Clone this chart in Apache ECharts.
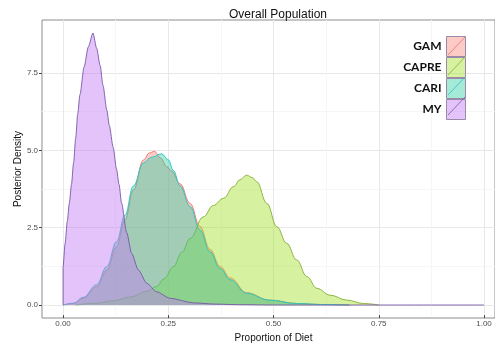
<!DOCTYPE html>
<html>
<head>
<meta charset="utf-8">
<script src="https://cdn.jsdelivr.net/npm/echarts@6/dist/echarts.min.js"></script>
<style>
  html, body { margin: 0; padding: 0; background: #ffffff; }
  #chart { width: 495px; height: 348px; }
</style>
</head>
<body>
<div id="chart"></div>
<script>
// Posterior density of each prey group's proportion of the diet
const groups = ['GAM', 'CAPRE', 'CARI', 'MY'];

const gamX = [0, 0.025, 0.048, 0.08, 0.104, 0.127, 0.147, 0.167, 0.191, 0.205, 0.217, 0.232, 0.246, 0.258, 0.278, 0.302, 0.325, 0.349, 0.373, 0.397, 0.436, 0.49, 0.555, 0.62, 0.68];
const gamY = [0, 0.05, 0.22, 0.59, 1.13, 1.89, 2.75, 3.72, 4.69, 4.92, 4.97, 4.75, 4.48, 4.33, 3.92, 3.28, 2.55, 1.8, 1.25, 0.88, 0.4, 0.16, 0.05, 0.015, 0];

const capreX = [0.03, 0.08, 0.12, 0.16, 0.2, 0.222, 0.24, 0.262, 0.282, 0.302, 0.333, 0.357, 0.381, 0.405, 0.42, 0.436, 0.45, 0.46, 0.484, 0.508, 0.531, 0.555, 0.579, 0.603, 0.634, 0.674, 0.713, 0.75];
const capreY = [0, 0.06, 0.14, 0.26, 0.45, 0.6, 0.85, 1.24, 1.7, 2.15, 2.85, 3.22, 3.45, 3.83, 4.05, 4.2, 4.12, 3.99, 3.29, 2.53, 2.0, 1.46, 0.92, 0.54, 0.32, 0.16, 0.05, 0];

const cariX = [0, 0.025, 0.048, 0.08, 0.104, 0.127, 0.147, 0.167, 0.191, 0.21, 0.234, 0.25, 0.262, 0.278, 0.302, 0.325, 0.349, 0.373, 0.397, 0.436, 0.49, 0.555, 0.62, 0.68];
const cariY = [0, 0.06, 0.25, 0.66, 1.25, 2.05, 2.9, 3.85, 4.6, 4.78, 4.89, 4.7, 4.35, 3.85, 3.18, 2.43, 1.72, 1.18, 0.82, 0.38, 0.16, 0.05, 0.015, 0];

const myX = [0, 0, 0.005, 0.01, 0.015, 0.02, 0.025, 0.03, 0.035, 0.04, 0.05, 0.06, 0.071, 0.08, 0.088, 0.095, 0.104, 0.11, 0.119, 0.127, 0.133, 0.139, 0.151, 0.163, 0.179, 0.199, 0.222, 0.254, 0.309, 0.36, 0.42, 0.5, 1.0];
const myY = [0, 1.24, 2.0, 2.7, 3.3, 3.9, 4.6, 5.4, 6.2, 6.8, 7.7, 8.35, 8.8, 8.3, 7.75, 7.1, 6.3, 5.8, 5.1, 4.4, 3.9, 3.3, 2.35, 1.67, 1.13, 0.7, 0.43, 0.22, 0.07, 0.03, 0.01, 0, 0];

// Axis ticks
const xTicks = [0, 0.25, 0.5, 0.75, 1];
const yTicks = [0, 2.5, 5, 7.5];

const lineColors = ['#ee7167', '#86ad36', '#27c2c4', '#7657a6'];
const fillColors = ['rgba(248,118,104,0.38)', 'rgba(165,223,43,0.45)', 'rgba(40,205,160,0.42)', 'rgba(192,122,245,0.45)'];

const pairs = (xs, ys) => xs.map((x, i) => [x, ys[i]]);
const seriesData = [pairs(gamX, gamY), pairs(capreX, capreY), pairs(cariX, cariY), pairs(myX, myY)];

const FONT = 'Liberation Sans, Arial, sans-serif';

const chart = echarts.init(document.getElementById('chart'), null, { renderer: 'canvas' });

// legend key geometry (keys stacked with no gap, diagonal stroke in each key)
const keyW = 19, keyH = 20, keyRight = 29, keyTop = 36, W = 495;
const keyLeft = W - keyRight - keyW;
const diagonals = groups.map((g, i) => ({
  type: 'line',
  z: 100,
  shape: { x1: keyLeft + 1, y1: keyTop + (i + 1) * keyH - 1, x2: keyLeft + keyW - 1, y2: keyTop + i * keyH + 1 },
  style: { stroke: lineColors[i], lineWidth: 0.8 }
}));

chart.setOption({
  animation: false,
  backgroundColor: '#ffffff',
  title: {
    text: 'Overall Population',
    left: 273,
    top: 4,
    textAlign: 'center',
    textStyle: { fontFamily: FONT, fontSize: 12, fontWeight: 'normal', color: '#111' }
  },
  legend: {
    orient: 'vertical',
    right: keyRight,
    top: keyTop,
    padding: 0,
    align: 'right',
    itemWidth: keyW,
    itemHeight: keyH,
    itemGap: 0,
    icon: 'rect',
    textStyle: { fontFamily: 'Lato, sans-serif', fontWeight: 'bold', fontSize: 12, color: '#111', lineHeight: 14 },
    data: groups.map((g, i) => ({
      name: g,
      itemStyle: { color: fillColors[i], borderColor: '#9a8aa8', borderWidth: 1 }
    }))
  },
  graphic: diagonals,
  grid: [
    // plotting panel
    { left: 42, right: 0, top: 20, bottom: 30, show: true, borderColor: '#8c8c8c', borderWidth: 1, backgroundColor: 'transparent' },
    // x scale (0..1) span
    { left: 63, right: 11, top: 20, bottom: 30 },
    // y scale (0..7.5) span
    { left: 42, right: 0, top: 73, bottom: 43 }
  ],
  xAxis: [
    {
      gridIndex: 0, type: 'value', min: -0.05, max: 1.026,
      axisLine: { show: false }, axisTick: { show: false }, axisLabel: { show: false }, splitLine: { show: false }
    },
    {
      gridIndex: 1, type: 'value', min: xTicks[0], max: xTicks[xTicks.length - 1], interval: 0.25,
      name: 'Proportion of Diet', nameLocation: 'middle', nameGap: 16,
      nameTextStyle: { fontFamily: FONT, fontSize: 10, color: '#111' },
      axisLine: { show: false },
      axisTick: { show: true, length: 3, lineStyle: { color: '#444', width: 1 } },
      axisLabel: { fontFamily: FONT, fontSize: 8, color: '#4d4d4d', margin: 5, formatter: v => v.toFixed(2) },
      splitLine: { show: true, lineStyle: { color: '#e8e8e8', width: 1 } },
      minorSplitLine: { show: true, lineStyle: { color: '#f6f6f6', width: 1 } },
      minorTick: { show: false, splitNumber: 2 }
    },
    { gridIndex: 2, type: 'value', show: false, min: 0, max: 1 }
  ],
  yAxis: [
    {
      gridIndex: 0, type: 'value', min: -0.42, max: 9.22,
      name: 'Posterior Density', nameLocation: 'middle', nameGap: 19,
      nameTextStyle: { fontFamily: FONT, fontSize: 10, color: '#111' },
      axisLine: { show: false }, axisTick: { show: false }, axisLabel: { show: false }, splitLine: { show: false }
    },
    { gridIndex: 1, type: 'value', show: false, min: 0, max: 1 },
    {
      gridIndex: 2, type: 'value', min: yTicks[0], max: yTicks[yTicks.length - 1], interval: 2.5,
      axisLine: { show: false },
      axisTick: { show: true, length: 3, lineStyle: { color: '#444', width: 1 } },
      axisLabel: { fontFamily: FONT, fontSize: 8, color: '#4d4d4d', margin: 4, formatter: v => v.toFixed(1) },
      splitLine: { show: true, lineStyle: { color: '#e8e8e8', width: 1 } },
      minorSplitLine: { show: true, lineStyle: { color: '#f6f6f6', width: 1 } },
      minorTick: { show: false, splitNumber: 2 }
    }
  ],
  series: groups.map((g, i) => ({
    name: g,
    type: 'line',
    xAxisIndex: 0,
    yAxisIndex: 0,
    data: seriesData[i],
    smooth: g === 'MY' ? 0.25 : 0.4,
    smoothMonotone: 'x',
    showSymbol: false,
    symbol: 'none',
    itemStyle: { color: lineColors[i] },
    lineStyle: { color: lineColors[i], width: 0.9 },
    areaStyle: { color: fillColors[i], opacity: 1 },
    z: 2 + i
  }))
});
</script>
</body>
</html>
